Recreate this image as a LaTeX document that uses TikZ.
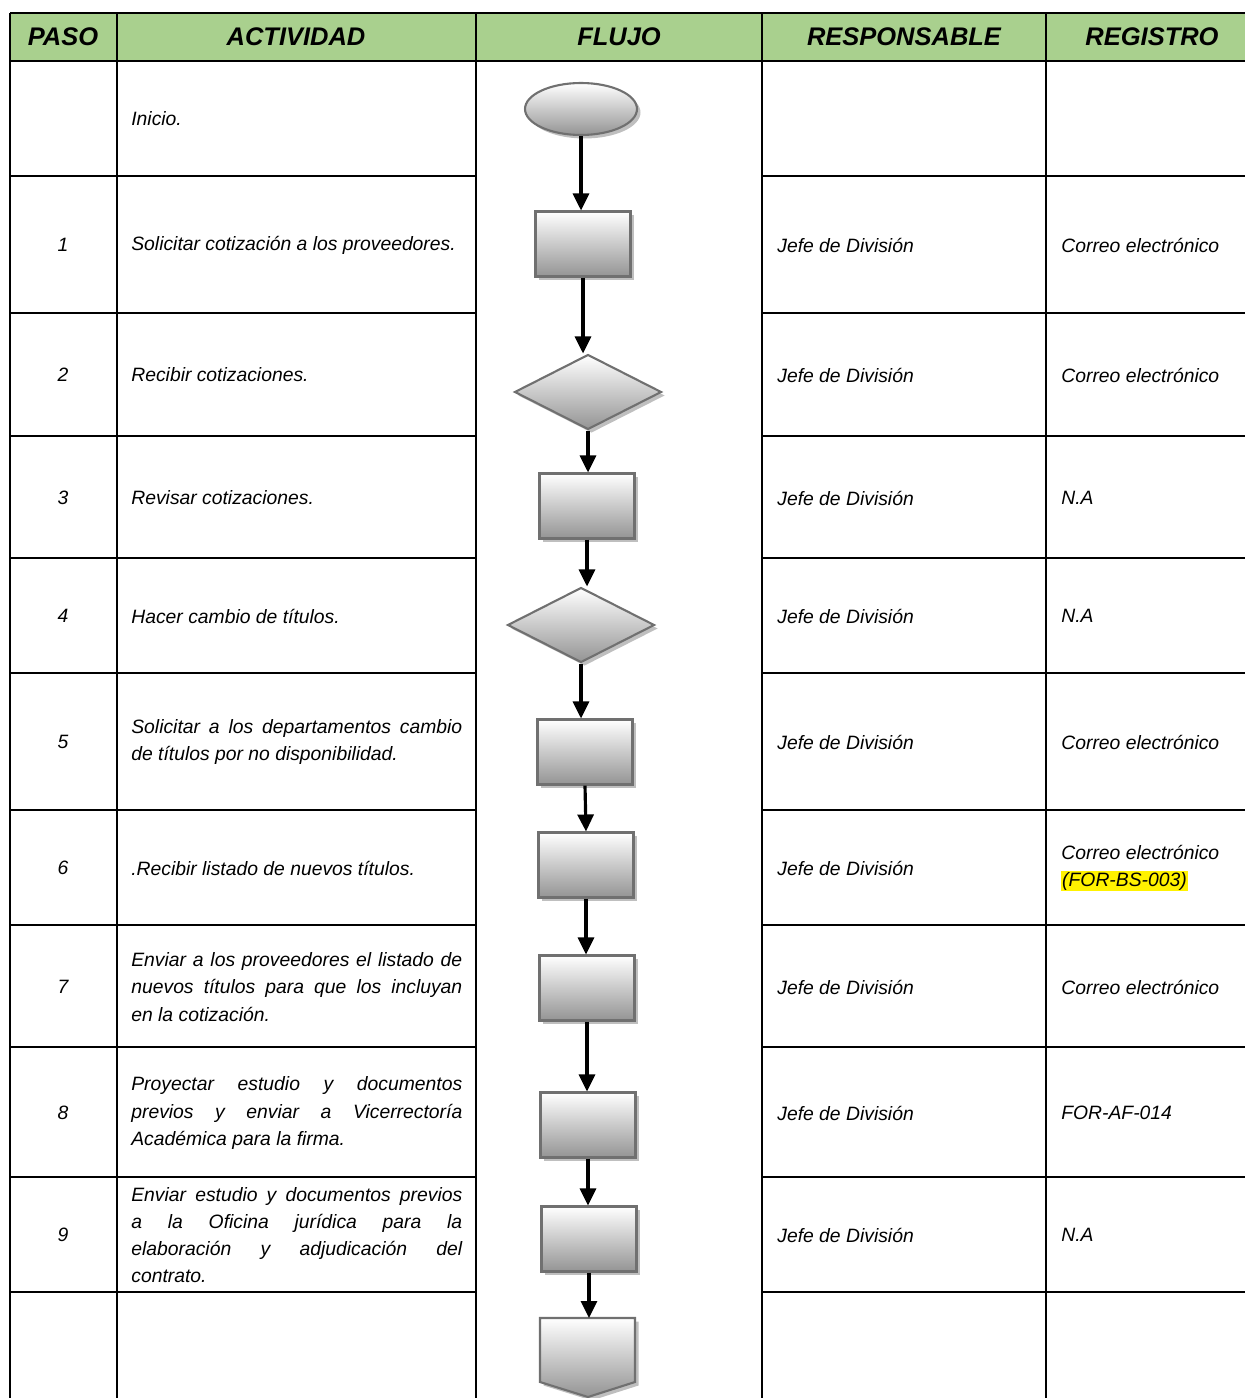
\documentclass[tikz,border=0pt]{standalone}
\usepackage{fontspec}
\setmainfont{Liberation Sans}
\usetikzlibrary{arrows.meta,shapes.geometric,shadows}
\definecolor{verdecab}{HTML}{A9D08E}
\definecolor{bordeflujo}{HTML}{707070}

\begin{document}
\begin{tikzpicture}[x=0.02cm, y=-0.02cm,
		caja/.style={draw=bordeflujo, line width=1.2pt, top color=white, bottom color=black!42,
			drop shadow={fill=black!25, opacity=1, shadow xshift=0.07cm, shadow yshift=-0.07cm}},
		proceso/.style={caja, rectangle, minimum width=1.9cm, minimum height=1.3cm, inner sep=0pt},
		decision/.style={caja, diamond, aspect=2, minimum width=2.94cm, minimum height=1.5cm, inner sep=0pt},
		terminal/.style={caja, ellipse, minimum width=2.24cm, minimum height=1.04cm, inner sep=0pt},
		flecha/.style={-{Triangle[length=0.34cm,width=0.32cm]}, line width=1.8pt},
		tabla/.style={line width=1.6pt},
		cabecera/.style={font=\bfseries\itshape\fontsize{14.5}{16}\selectfont, inner sep=0pt},
		num/.style={font=\itshape\fontsize{11}{15.5}\selectfont, inner sep=0pt},
		txt/.style={num, anchor=west},
		actividad/.style={txt, text width=6.62cm, align=justify}]
		%%%%% START %%%%%
		
		\useasboundingbox (0, 0) rectangle (1245, 1398);
		
		% cabecera
		\fill[verdecab] (10, 13) rectangle (1245, 61);
		\node[cabecera] (hpaso) at (63, 37) {PASO};
		\node[cabecera] (hact) at (296, 37) {ACTIVIDAD};
		\node[cabecera] (hflujo) at (619, 37) {FLUJO};
		\node[cabecera] (hresp) at (904, 37) {RESPONSABLE};
		\node[cabecera] (hreg) at (1152, 37) {REGISTRO};
		
		% lineas de la tabla
		\draw[tabla] (10, 13) -- (1245, 13);
		\draw[tabla] (10, 61) -- (1245, 61);
		\foreach \x in {10, 117, 476, 762, 1046}
			\draw[tabla] (\x, 13) -- (\x, 1398);
		\foreach \y in {176, 313, 436, 558, 673, 810, 925, 1047, 1177, 1292} {
			\draw[tabla] (10, \y) -- (476, \y);
			\draw[tabla] (762, \y) -- (1245, \y);
		}
		
		% pasos
		\node[num] (n1) at (63, 245) {1};
		\node[num] (n2) at (63, 375) {2};
		\node[num] (n3) at (63, 498) {3};
		\node[num] (n4) at (63, 616) {4};
		\node[num] (n5) at (63, 742) {5};
		\node[num] (n6) at (63, 868) {6};
		\node[num] (n7) at (63, 987) {7};
		\node[num] (n8) at (63, 1113) {8};
		\node[num] (n9) at (63, 1235) {9};
		
		% actividades
		\node[txt] (t0) at (131, 119) {Inicio.};
		\node[txt] (t1) at (131, 245) {Solicitar cotización a los proveedores.};
		\node[txt] (t2) at (131, 375) {Recibir cotizaciones.};
		\node[txt] (t3) at (131, 498) {Revisar cotizaciones.};
		\node[txt] (t4) at (131, 616) {Hacer cambio de títulos.};
		\node[actividad] (t5) at (131, 742) {Solicitar a los departamentos cambio\linebreak de títulos por no disponibilidad.};
		\node[txt] (t6) at (131, 868) {.Recibir listado de nuevos títulos.};
		\node[actividad] (t7) at (131, 987) {Enviar a los proveedores el listado de\linebreak nuevos títulos para que los incluyan\linebreak en la cotización.};
		\node[actividad] (t8) at (131, 1113) {Proyectar estudio y documentos\linebreak previos y enviar a Vicerrectoría\linebreak Académica para la firma.};
		\node[actividad] (t9) at (131, 1235) {Enviar estudio y documentos previos\linebreak a la Oficina jurídica para la\linebreak elaboración y adjudicación del\linebreak contrato.};
		
		% responsables
		\node[txt] (r1) at (777, 245) {Jefe de División};
		\node[txt] (r2) at (777, 375) {Jefe de División};
		\node[txt] (r3) at (777, 498) {Jefe de División};
		\node[txt] (r4) at (777, 616) {Jefe de División};
		\node[txt] (r5) at (777, 742) {Jefe de División};
		\node[txt] (r6) at (777, 868) {Jefe de División};
		\node[txt] (r7) at (777, 987) {Jefe de División};
		\node[txt] (r8) at (777, 1113) {Jefe de División};
		\node[txt] (r9) at (777, 1235) {Jefe de División};
		
		% registros
		\node[txt] (g1) at (1061, 245) {Correo electrónico};
		\node[txt] (g2) at (1061, 375) {Correo electrónico};
		\node[txt] (g3) at (1061, 498) {N.A};
		\node[txt] (g4) at (1061, 616) {N.A};
		\node[txt] (g5) at (1061, 742) {Correo electrónico};
		\node[txt, align=left] (g6) at (1061, 868) {Correo electrónico\\\setlength{\fboxsep}{0.5pt}\colorbox{yellow}{(FOR-BS-003)}};
		\node[txt] (g7) at (1061, 987) {Correo electrónico};
		\node[txt] (g8) at (1061, 1113) {FOR-AF-014};
		\node[txt] (g9) at (1061, 1235) {N.A};
		
		% flujo
		\node[terminal] (inicio) at (581, 109) {};
		\node[proceso] (f1) at (583, 244) {};
		\node[decision] (f2) at (588, 392) {};
		\node[proceso] (f3) at (587, 506) {};
		\node[decision] (f4) at (581, 625) {};
		\node[proceso] (f5) at (585, 752) {};
		\node[proceso] (f6) at (586, 865) {};
		\node[proceso] (f7) at (587, 988) {};
		\node[proceso] (f8) at (588, 1125) {};
		\node[proceso] (f9) at (589, 1239) {};
		\draw[caja] (540, 1318) -- (635, 1318) -- (635, 1382) -- (588, 1397) -- (540, 1382) -- cycle;
		\coordinate (fin) at (589, 1318);
		
		\draw[flecha] (inicio.south) -- (inicio.south |- f1.north);
		\draw[flecha] (f1.south) -- (f1.south |- f2.north);
		\draw[flecha] (f2.south) -- (f2.south |- f3.north);
		\draw[flecha] (f3.south) -- (f3.south |- f4.north);
		\draw[flecha] (f4.south) -- (f4.south |- f5.north);
		\draw[flecha] (f5.south) -- (f6.north);
		\draw[flecha] (f6.south) -- (f6.south |- f7.north);
		\draw[flecha] (f7.south) -- (f7.south |- f8.north);
		\draw[flecha] (f8.south) -- (f8.south |- f9.north);
		\draw[flecha] (f9.south) -- (fin);
		
		%%%%% END %%%%%
	\end{tikzpicture}
\end{document}
